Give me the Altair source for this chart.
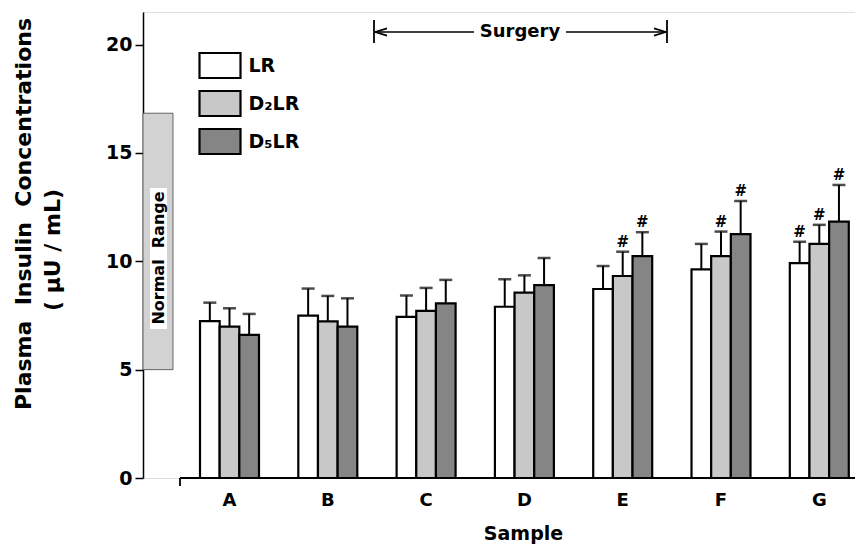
import altair as alt
import pandas as pd

samples = ["A", "B", "C", "D", "E", "F", "G"]
series = ["LR", "D₂LR", "D₅LR"]
lr_mean = [7.24, 7.49, 7.43, 7.90, 8.72, 9.63, 9.91]
lr_sd = [0.85, 1.25, 0.99, 1.27, 1.06, 1.17, 0.99]
d2_mean = [6.98, 7.23, 7.71, 8.55, 9.32, 10.24, 10.80]
d2_sd = [0.85, 1.17, 1.06, 0.80, 1.12, 1.13, 0.88]
d5_mean = [6.60, 6.98, 8.06, 8.90, 10.24, 11.25, 11.83]
d5_sd = [0.97, 1.31, 1.08, 1.25, 1.10, 1.53, 1.69]
lr_sig = [0, 0, 0, 0, 0, 0, 1]
d2_sig = [0, 0, 0, 0, 1, 1, 1]
d5_sig = [0, 0, 0, 0, 1, 1, 1]
normal_range = [5.0, 16.83]
colors = ["#ffffff", "#c8c8c8", "#858585"]

rows = []
for name, means, sds, sigs in [(series[0], lr_mean, lr_sd, lr_sig),
                               (series[1], d2_mean, d2_sd, d2_sig),
                               (series[2], d5_mean, d5_sd, d5_sig)]:
    for s, m, e, g in zip(samples, means, sds, sigs):
        rows.append({"sample": s, "series": name, "mean": m,
                     "upper": round(m + e, 3), "sig": g})
df = pd.DataFrame(rows)
nr = pd.DataFrame({"lo": [normal_range[0]], "hi": [normal_range[1]]})
one = pd.DataFrame({"k": [0]})

FONT = "DejaVu Sans"
W, H = 712, 466

xenc = alt.X("sample:N", sort=samples,
             scale=alt.Scale(range=[37.35, 725.45], paddingInner=0.4, paddingOuter=0.2),
             axis=alt.Axis(title="Sample", labelAngle=0, ticks=False, domain=False,
                           labelFontSize=18, labelFontWeight="bold", labelPadding=13,
                           labelColor="black",
                           titleFontSize=19, titleFontWeight="bold", titleColor="black",
                           titleX=380, titleY=61, titleBaseline="alphabetic"))
xoff = alt.XOffset("series:N", sort=series,
                   scale=alt.Scale(domain=series, paddingInner=0, paddingOuter=0))
yscale = alt.Scale(domain=[0, 21.5], nice=False, zero=True)

base = alt.Chart(df)

bars = base.mark_bar(stroke="black", strokeWidth=2.2).encode(
    x=xenc, xOffset=xoff,
    y=alt.Y("mean:Q", scale=yscale,
            axis=alt.Axis(title=None, values=[0, 5, 10, 15, 20], grid=False,
                          tickSize=8, tickWidth=1.5, domainWidth=1.5,
                          domainColor="black", tickColor="black",
                          labelFontSize=19, labelFontWeight="bold", labelPadding=3,
                          labelColor="black")),
    fill=alt.Fill("series:N", sort=series,
                  scale=alt.Scale(domain=series, range=colors),
                  legend=alt.Legend(title=None, orient="none", legendX=56.5, legendY=33,
                                    symbolType="M-1.079,-0.658H1.079V0.658H-1.079Z",
                                    symbolSize=1444, symbolStrokeColor="black",
                                    symbolStrokeWidth=2.2, labelFontSize=19,
                                    labelFontWeight="bold",
                                    labelOffset=8, rowPadding=0, padding=0,
                                    labelColor="black", labelFont=FONT)),
)

err = base.mark_rule(color="black", strokeWidth=2).encode(
    x=xenc, xOffset=xoff, y=alt.Y("mean:Q", scale=yscale), y2="upper:Q")

caps = base.mark_tick(color="black", thickness=2.5, size=13, orient="horizontal").encode(
    x=xenc, xOffset=xoff, y=alt.Y("upper:Q", scale=yscale))

marks = base.transform_filter(alt.datum.sig == 1).mark_text(
    text="#", fontSize=15, fontWeight="bold", dy=-10, color="black", font=FONT).encode(
    x=xenc, xOffset=xoff, y=alt.Y("upper:Q", scale=yscale))

normal = alt.Chart(nr).mark_rect(fill="#d2d2d2", stroke="#444", strokeWidth=0.8).encode(
    x=alt.value(0), x2=alt.value(30),
    y=alt.Y("lo:Q", scale=yscale), y2="hi:Q")
normal_bg = alt.Chart(one).mark_rect(fill="white").encode(
    x=alt.value(7), x2=alt.value(24), y=alt.value(176), y2=alt.value(317))
normal_txt = alt.Chart(one).mark_text(
    text="Normal\u00a0\u00a0Range", angle=270, fontSize=16, fontWeight="bold", font=FONT,
    color="black", align="center", baseline="middle").encode(x=alt.value(15.5), y=alt.value(246))

ytitle1 = alt.Chart(one).mark_text(
    text="Plasma\u00a0\u00a0Insulin\u00a0\u00a0Concentrations", angle=270, fontSize=22,
    fontWeight="bold", font=FONT, color="black", align="center", baseline="middle").encode(
    x=alt.value(-119), y=alt.value(202))
ytitle2 = alt.Chart(one).mark_text(
    text="(\u00a0μU\u00a0/\u00a0mL)", angle=270, fontSize=22, fontWeight="bold",
    font=FONT, color="black", align="center", baseline="middle").encode(
    x=alt.value(-90), y=alt.value(238))

baseline = alt.Chart(one).mark_rule(color="black", strokeWidth=1.8).encode(
    x=alt.value(37), x2=alt.value(W), y=alt.value(H))
baseline_tick = alt.Chart(one).mark_rule(color="black", strokeWidth=1.8).encode(
    x=alt.value(37), y=alt.value(H), y2=alt.value(H + 8))

s_left = alt.Chart(one).mark_rule(color="black", strokeWidth=1.8).encode(
    x=alt.value(231), y=alt.value(8), y2=alt.value(31))
s_right = alt.Chart(one).mark_rule(color="black", strokeWidth=1.8).encode(
    x=alt.value(524), y=alt.value(8), y2=alt.value(31))
s_line1 = alt.Chart(one).mark_rule(color="black", strokeWidth=1.5).encode(
    x=alt.value(232), x2=alt.value(331), y=alt.value(20))
s_line2 = alt.Chart(one).mark_rule(color="black", strokeWidth=1.5).encode(
    x=alt.value(423), x2=alt.value(523), y=alt.value(20))
s_head1 = alt.Chart(one).mark_point(shape="M-1,0L1,-0.6M-1,0L1,0.6", size=144,
                                    filled=False, color="black", strokeWidth=1.8,
                                    opacity=1).encode(x=alt.value(238), y=alt.value(20))
s_head2 = alt.Chart(one).mark_point(shape="M1,0L-1,-0.6M1,0L-1,0.6", size=144,
                                    filled=False, color="black", strokeWidth=1.8,
                                    opacity=1).encode(x=alt.value(517), y=alt.value(20))
s_text = alt.Chart(one).mark_text(text="Surgery", fontSize=18, fontWeight="bold", font=FONT,
                                  color="black", align="center", baseline="middle").encode(
    x=alt.value(377), y=alt.value(20))

chart = alt.layer(
    normal, normal_bg, normal_txt, bars, err, caps, marks, baseline, baseline_tick,
    ytitle1, ytitle2, s_left, s_right, s_line1, s_line2, s_head1, s_head2, s_text
).properties(
    width=W, height=H,
    padding={"left": 135, "top": 4, "right": 0, "bottom": 68},
    autosize=alt.AutoSizeParams(type="none"),
).configure_view(stroke=None).configure(font=FONT).configure_axis(labelFont=FONT, titleFont=FONT)

chart.save("out.html", embed_options={"renderer": "svg", "actions": False})
